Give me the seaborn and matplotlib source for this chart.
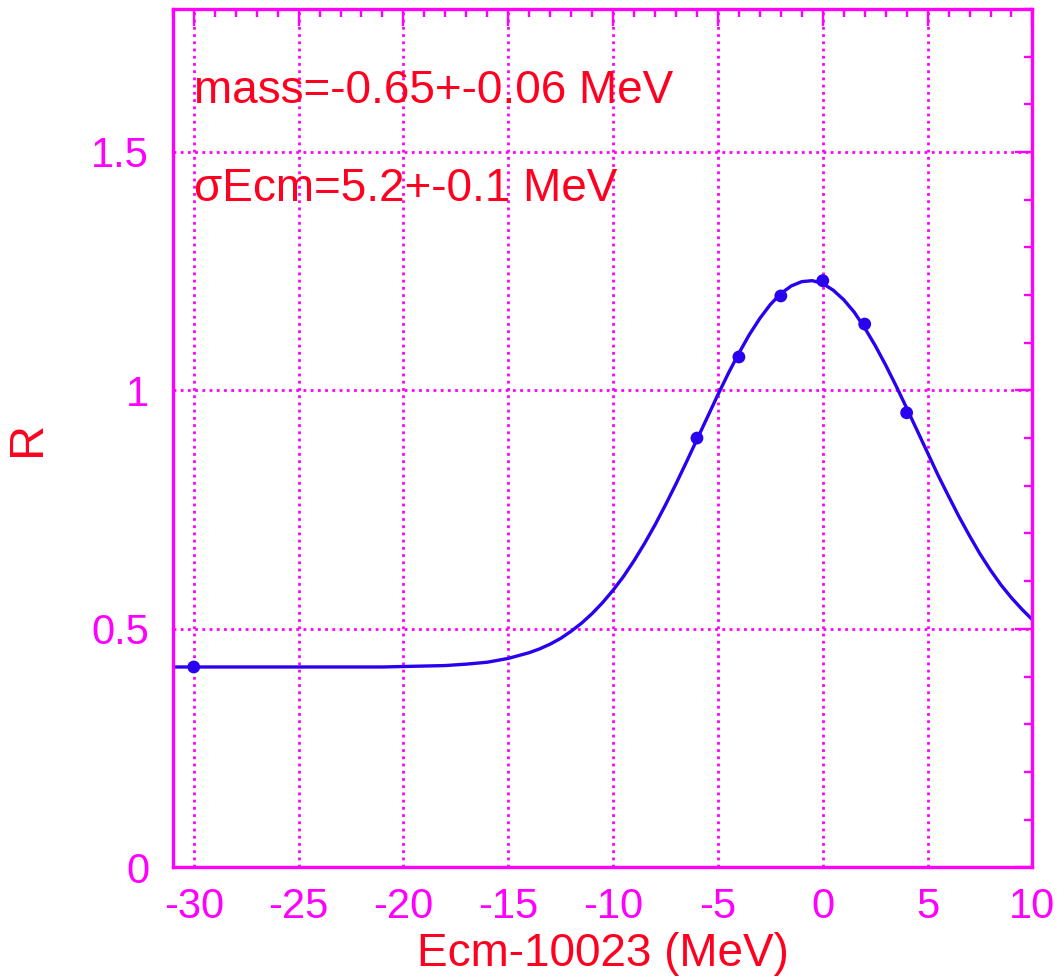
import numpy as np
import pandas as pd
import seaborn as sns
import matplotlib
matplotlib.use('Agg')
from matplotlib import pyplot as plt
from matplotlib.ticker import MultipleLocator, FuncFormatter

# measured points
ecm_pts = [-30, -6, -4, -2, 0, 2, 4]
r_pts = [0.42, 0.90, 1.07, 1.198, 1.23, 1.139, 0.953]

# fit curve
ecm_fit = [-31, -28, -25, -22, -21, -20, -19, -18, -17, -16, -15, -14, -13.5, -13,
           -12.5, -12, -11.5, -11, -10.5, -10, -9.5, -9, -8.5, -8, -7.5, -7, -6.5,
           -6, -5.5, -5, -4.5, -4, -3.5, -3, -2.5, -2, -1.5, -1, -0.5, 0, 0.5, 1,
           1.5, 2, 2.5, 3, 3.5, 4, 4.5, 5, 5.5, 6, 6.5, 7, 7.5, 8, 8.5, 9, 9.5, 10]
r_fit = [0.420, 0.420, 0.420, 0.420, 0.420, 0.421, 0.422, 0.423, 0.426, 0.430, 0.438,
         0.450, 0.458, 0.468, 0.480, 0.495, 0.512, 0.532, 0.555, 0.581, 0.610, 0.643,
         0.679, 0.718, 0.760, 0.804, 0.850, 0.897, 0.944, 0.991, 1.036, 1.078, 1.117,
         1.151, 1.180, 1.203, 1.219, 1.228, 1.230, 1.224, 1.210, 1.190, 1.164, 1.131,
         1.094, 1.053, 1.009, 0.963, 0.916, 0.869, 0.822, 0.778, 0.735, 0.695, 0.657,
         0.623, 0.592, 0.565, 0.541, 0.519]

fit_text = ['mass=-0.65+-0.06 MeV', 'σEcm=5.2+-0.1 MeV']

magenta = '#ff00ff'
red = '#ff0020'
blue = '#2a00f0'

sns.set_style('white')
plt.rcParams['font.family'] = ['Liberation Sans', 'DejaVu Sans']
plt.rcParams['axes.unicode_minus'] = False

df_pts = pd.DataFrame({'Ecm': ecm_pts, 'R': r_pts})
df_fit = pd.DataFrame({'Ecm': ecm_fit, 'R': r_fit})

fig = plt.figure(figsize=(10.6, 9.8), dpi=100)
ax = fig.add_subplot()
fig.subplots_adjust(left=0.163, right=0.974, bottom=0.115, top=0.991)

sns.lineplot(data=df_fit, x='Ecm', y='R', ax=ax, color=blue, linewidth=2.4, zorder=3)
sns.scatterplot(data=df_pts, x='Ecm', y='R', ax=ax, color=blue, s=85,
                edgecolor='none', zorder=4)

ax.set_xlim(-31, 10)
ax.set_ylim(0, 1.8)
ax.xaxis.set_major_locator(MultipleLocator(5))
ax.xaxis.set_minor_locator(MultipleLocator(1))
ax.yaxis.set_major_locator(MultipleLocator(0.5))
ax.yaxis.set_minor_locator(MultipleLocator(0.1))
ax.yaxis.set_major_formatter(FuncFormatter(lambda v, p: '%g' % v))
ax.xaxis.set_major_formatter(FuncFormatter(lambda v, p: '%g' % v))

ax.grid(True, which='major', color=magenta, linestyle=(0, (1, 1.6)), linewidth=2.0)
for s in ax.spines.values():
    s.set_color(magenta)
    s.set_linewidth(2.4)
    s.set_zorder(5)

ax.tick_params(which='both', direction='in', top=True, right=True,
               color=magenta, width=1.7)
ax.tick_params(which='major', length=12, labelsize=30, labelcolor=magenta)
ax.tick_params(axis='x', which='major', pad=14)
ax.tick_params(axis='y', which='major', pad=17)
ax.tick_params(which='minor', length=6)

ax.set_xlabel('Ecm-10023 (MeV)', color=red, fontsize=33, labelpad=4)
ax.set_ylabel('R', color=red, fontsize=35, labelpad=30)

ax.text(-30, 1.628, fit_text[0], color=red, fontsize=33, va='center', ha='left')
ax.text(-30, 1.422, fit_text[1], color=red, fontsize=33, va='center', ha='left')

plt.savefig('out.png', dpi=100)
plt.close(fig)
